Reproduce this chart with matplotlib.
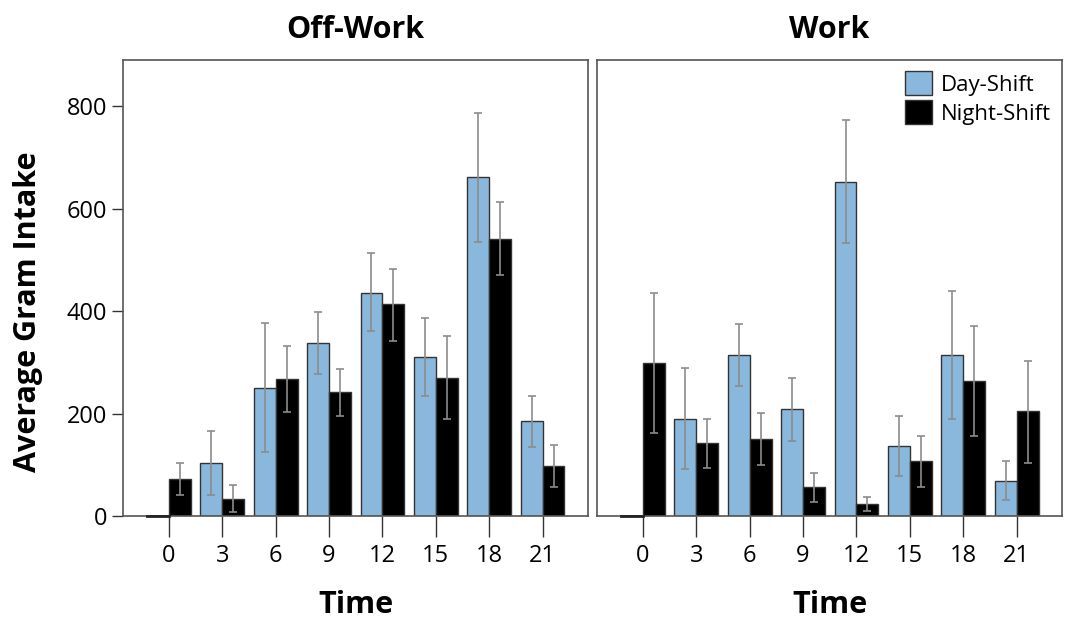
import numpy as np
import matplotlib
matplotlib.use('Agg')
import matplotlib.pyplot as plt

plt.rcParams['font.family'] = ['Open Sans', 'DejaVu Sans']

times = ['0', '3', '6', '9', '12', '15', '18', '21']

# Off-Work
off_day = [0, 103, 249, 338, 436, 310, 661, 185]
off_day_lo = [0, 42, 124, 278, 361, 234, 534, 134]
off_day_hi = [0, 166, 377, 398, 514, 386, 787, 234]
off_night = [72, 34, 267, 242, 413, 270, 541, 98]
off_night_lo = [41, 8, 203, 195, 342, 189, 470, 57]
off_night_hi = [103, 60, 332, 287, 483, 352, 613, 139]

# Work
work_day = [0, 190, 314, 208, 652, 137, 314, 69]
work_day_lo = [0, 92, 254, 146, 533, 79, 189, 31]
work_day_hi = [0, 288, 375, 269, 772, 195, 440, 108]
work_night = [299, 142, 150, 56, 23, 107, 264, 204]
work_night_lo = [162, 94, 99, 27, 9, 57, 157, 103]
work_night_hi = [436, 190, 201, 84, 38, 157, 371, 302]

day_color = '#8ab8dc'
night_color = '#000000'
edge = '#333333'
err_color = '#8c8c8c'

fig = plt.figure(figsize=(10.71, 6.24), dpi=100)
ax1 = fig.add_axes([0.1148, 0.173, 0.4342, 0.731])
ax2 = fig.add_axes([0.5574, 0.173, 0.4342, 0.731])

x = np.arange(len(times))
w = 0.41


def draw(ax, day, dlo, dhi, night, nlo, nhi, title):
    day = np.array(day)
    night = np.array(night)
    ax.bar(x - w / 2, day, w, color=day_color, edgecolor=edge, linewidth=1, label='Day-Shift', zorder=2)
    ax.bar(x + w / 2, night, w, color=night_color, edgecolor=edge, linewidth=1, label='Night-Shift', zorder=2)
    derr = [day - np.array(dlo), np.array(dhi) - day]
    nerr = [night - np.array(nlo), np.array(nhi) - night]
    mask = day > 0
    ax.errorbar((x - w / 2)[mask], day[mask], yerr=[derr[0][mask], derr[1][mask]], fmt='none',
                ecolor=err_color, elinewidth=1.2, capsize=3, capthick=1.2, zorder=3)
    ax.errorbar(x + w / 2, night, yerr=nerr, fmt='none',
                ecolor=err_color, elinewidth=1.2, capsize=3, capthick=1.2, zorder=3)
    # zero-height bars shown as a short dark stub on the baseline
    for xi in (x - w / 2)[~mask]:
        ax.plot([xi - w / 2, xi + w / 2], [0, 0], color='#222222', lw=2, zorder=4, clip_on=False)
    ax.set_xlim(-0.86, 7.85)
    ax.set_ylim(0, 890)
    ax.set_xticks(x)
    ax.set_xticklabels(times, fontsize=17)
    ax.tick_params(axis='x', length=15, width=1, color='#333333', pad=5)
    for s in ax.spines.values():
        s.set_color('#555555')
        s.set_linewidth(1.2)
    ax.set_title(title, fontsize=22, fontweight='bold', pad=16)
    ax.set_xlabel('Time', fontsize=22, fontweight='bold', labelpad=16)


draw(ax1, off_day, off_day_lo, off_day_hi, off_night, off_night_lo, off_night_hi, 'Off-Work')
draw(ax2, work_day, work_day_lo, work_day_hi, work_night, work_night_lo, work_night_hi, 'Work')

ax1.set_yticks([0, 200, 400, 600, 800])
ax1.tick_params(axis='y', labelsize=17, length=8, width=1, color='#333333')
ax1.set_ylabel('Average Gram Intake', fontsize=22, fontweight='bold', labelpad=17, y=0.447)
ax2.set_yticks([])

ax2.legend(loc='upper right', frameon=False, fontsize=16, handlelength=1.2, handleheight=1.3,
           handletextpad=0.4, labelspacing=0.2, borderaxespad=0.1)

fig.savefig('out.png', dpi=100)
